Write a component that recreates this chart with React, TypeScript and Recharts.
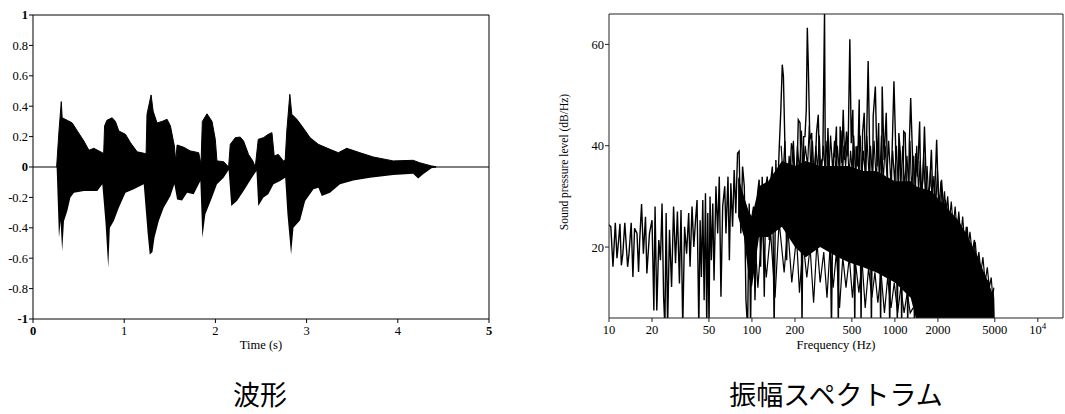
import React from 'react';
import { ComposedChart, Area, Line, XAxis, YAxis, ReferenceLine } from 'recharts';

const SERIF = '"Liberation Serif", "DejaVu Serif", serif';
const CJK = '"Noto Sans CJK JP", "Noto Sans CJK SC", sans-serif';

// waveform envelope, upper edge (time s / amplitude)
const waveUpT = [
  0.259, 0.285, 0.31, 0.32, 0.376, 0.43, 0.486, 0.558, 0.613, 0.667,
  0.76, 0.775, 0.785, 0.81, 0.868, 0.904, 0.941, 1.014, 1.069, 1.142,
  1.233, 1.24, 1.25, 1.295, 1.317, 1.36, 1.416, 1.47, 1.507, 1.55,
  1.565, 1.58, 1.652, 1.725, 1.817, 1.842, 1.857, 1.908, 1.963, 1.999,
  2.017, 2.09, 2.145, 2.163, 2.218, 2.272, 2.309, 2.363, 2.41, 2.437,
  2.47, 2.527, 2.58, 2.62, 2.645, 2.69, 2.745, 2.765, 2.783, 2.816,
  2.838, 2.893, 2.948, 3.038, 3.129, 3.257, 3.348, 3.44, 3.585, 3.73,
  3.95, 4.168, 4.24, 4.37, 4.42,
];
const waveUpV = [
  0, 0.237, 0.43, 0.324, 0.307, 0.29, 0.237, 0.171, 0.11, 0.123,
  0.094, 0.09, 0.27, 0.307, 0.324, 0.3, 0.237, 0.215, 0.16, 0.1,
  0.088, 0.085, 0.347, 0.474, 0.368, 0.29, 0.3, 0.314, 0.27, 0.138,
  0.04, 0.145, 0.13, 0.106, 0.094, 0.018, 0.3, 0.35, 0.3, 0.182,
  0.04, 0.035, 0, 0.149, 0.193, 0.197, 0.171, 0.083, 0.04, 0,
  0.182, 0.193, 0.215, 0.226, 0.072, 0.083, 0.04, 0.045, 0.237, 0.478,
  0.347, 0.314, 0.27, 0.193, 0.149, 0.116, 0.094, 0.123, 0.094, 0.066,
  0.04, 0.044, 0.028, 0.007, 0.002,
];

// waveform envelope, lower edge
const waveLoT = [
  0.259, 0.285, 0.302, 0.32, 0.34, 0.376, 0.41, 0.449, 0.558, 0.705,
  0.76, 0.795, 0.825, 0.843, 0.886, 0.941, 1.014, 1.105, 1.214, 1.258,
  1.28, 1.31, 1.332, 1.379, 1.433, 1.507, 1.55, 1.58, 1.634, 1.69,
  1.762, 1.835, 1.857, 1.89, 1.963, 2.017, 2.09, 2.145, 2.174, 2.236,
  2.309, 2.4, 2.45, 2.47, 2.527, 2.58, 2.637, 2.71, 2.765, 2.79,
  2.83, 2.856, 2.929, 2.984, 3.075, 3.13, 3.166, 3.257, 3.366, 3.512,
  3.695, 3.95, 4.168, 4.223, 4.278, 4.37, 4.42,
];
const waveLoV = [
  0, -0.465, -0.355, -0.553, -0.355, -0.29, -0.2, -0.169, -0.158, -0.158,
  -0.114, -0.366, -0.662, -0.4, -0.355, -0.268, -0.169, -0.147, -0.114, -0.443,
  -0.575, -0.56, -0.465, -0.355, -0.268, -0.191, -0.114, -0.213, -0.22, -0.169,
  -0.18, -0.092, -0.465, -0.311, -0.2, -0.114, -0.07, -0.02, -0.257, -0.224,
  -0.158, -0.07, -0.026, -0.257, -0.2, -0.18, -0.114, -0.092, -0.07, -0.311,
  -0.575, -0.4, -0.35, -0.224, -0.147, -0.136, -0.191, -0.169, -0.114, -0.088,
  -0.07, -0.053, -0.044, -0.075, -0.048, -0.009, -0.002,
];

// spectrum trace (Hz / dB per Hz)
const specFreq = [
  10, 10.3, 10.66, 11.07, 11.37, 11.68, 11.93, 12.2, 12.5, 12.9,
  13.5, 13.8, 14.3, 14.7, 15.1, 15.7, 16.1, 16.4, 16.9, 17.4,
  18, 18.4, 19.2, 20, 20.6, 21, 21.6, 22.3, 22.9, 23.5,
  24.1, 24.6, 25.1, 25.7, 26.5, 27.4, 28.3, 29.2, 30.1, 31.1,
  31.9, 32.8, 33.8, 34.9, 36.1, 36.9, 38.1, 39.2, 40.3, 41.3,
  42.5, 43.4, 44.3, 45.3, 46.3, 47.3, 48.3, 49.1, 50.1, 50.9,
  52, 53.2, 54.3, 56, 57.6, 59.1, 60.7, 62.4, 64.5, 65.8,
  68, 69.5, 71.2, 73.2, 75.1, 77.1, 79.3, 81.3, 83.6, 86,
  88.4, 90.8, 93.2, 95.7, 97.8, 100, 102.6, 105, 109.5, 112.3,
  115, 118, 122, 125, 128, 132, 135, 139, 143, 147,
  150, 155, 159, 163, 166, 170, 175, 180, 184, 189,
  194, 200, 206, 211, 217, 220, 224, 230, 235, 240,
  244, 248, 254, 262, 268, 276, 283, 291, 300, 308,
  313, 322, 328, 340, 348, 360, 372, 380, 390, 402,
  414, 425, 435, 445, 459, 470, 484, 495, 508, 524,
  535, 549, 563, 580, 594, 610, 625, 650, 668, 685,
  705, 730, 750, 770, 795, 815, 840, 870, 895, 920,
  950, 985, 1010, 1040, 1066, 1092, 1115, 1152, 1180, 1200,
  1230, 1260, 1290, 1340, 1370, 1400, 1440, 1490, 1520, 1570,
  1610, 1660, 1700, 1750, 1800, 1850, 1900, 1960, 2010, 2070,
  2120, 2200, 2250, 2300, 2370, 2440, 2520, 2600, 2680, 2760,
  2840, 2930, 3020, 3110, 3200, 3300, 3400, 3600, 3700, 3800,
  3950, 4060, 4200, 4360, 4500, 4650, 4800, 4880, 4960, 15000,
];
const specDb = [
  24.4, 24, 16.1, 24.8, 17.8, 21.4, 24.6, 16.4, 18.7, 24.8,
  16.1, 18.7, 24.8, 14.1, 23.7, 22.7, 15.1, 21.4, 28.5, 18.7,
  26, 14.8, 22.7, 25.3, 7.5, 28, 7.5, 21.4, 17.4, 28.6,
  10.2, 4, 26.7, 4, 23.4, 12.1, 28, 16.8, 27, 12.8,
  27.3, 4, 24, 18.7, 26.7, 16.1, 28, 20, 25.3, 29.3,
  4, 25.3, 14.1, 29.3, 9.5, 30.6, 4, 26.7, 4, 30,
  17.4, 28.6, 13.4, 32, 22.7, 33.9, 10.2, 28, 32, 22.7,
  33.9, 17.4, 32.6, 24, 35.2, 26.7, 38.5, 38.9, 22.7, 35.9,
  32, 9.5, 4, 28.6, 4, 26, 28, 9.5, 30.6, 33.3,
  16.1, 33.9, 10.2, 32, 33.9, 21.4, 32.9, 35.9, 4, 37.2,
  28, 39.2, 46.5, 56, 53.7, 40.5, 17.4, 35.9, 33.3, 40.5,
  39.2, 31.3, 33.3, 45.1, 44.5, 35.9, 4, 41.8, 41.8, 47.1,
  63.3, 55.7, 41.2, 42.5, 22.7, 34.6, 42.5, 46.1, 30.6, 37.2,
  37.2, 66.5, 21.4, 43.5, 34.6, 4, 38.2, 37.9, 43.8, 4,
  43.8, 36.6, 47.1, 37.2, 42.8, 37.9, 61, 40.5, 47.1, 4,
  39.9, 35.9, 49.1, 4, 42.5, 46.5, 32.6, 56.7, 37.2, 4,
  45.8, 51.7, 35.9, 44.5, 4, 51.7, 37.2, 46.5, 29.3, 4,
  35.9, 52.7, 41.2, 4, 42.5, 38.5, 4, 42.8, 42.5, 34.6,
  4, 39.9, 49.4, 34.6, 4, 38.5, 33.9, 44.8, 29.3, 33.3,
  43.8, 32, 29.3, 32, 39.2, 28, 30.6, 41.2, 30.6, 22.7,
  33.3, 26.7, 29.3, 28, 26, 26.7, 24, 25.3, 22.7, 24,
  22.7, 23.4, 21.4, 18.7, 24, 18.7, 17.4, 21.4, 16.1, 18.1,
  16.1, 14.1, 14.8, 13.4, 13.4, 10.8, 10.2, 10.8, 4, 4,
];

// finer harmonic comb along the top of the dense band
const fineFreq = [
  160, 165, 170, 176, 182, 188, 195, 202, 208, 215,
  222, 228, 236, 245, 252, 258, 265, 272, 280, 288,
  296, 304, 316, 325, 335, 345, 355, 367, 378, 386,
  396, 408, 420, 430, 440, 452, 465, 478, 490, 502,
  515, 530, 545, 558, 572, 588, 602, 618, 636, 660,
  675, 695, 715, 740, 760, 785, 805, 828, 855, 880,
  905, 935, 965, 995, 1025, 1055, 1080, 1105, 1135, 1165,
  1215, 1245, 1275, 1310, 1355, 1385, 1420, 1465, 1505, 1545,
  1590, 1635, 1680, 1725, 1775, 1825, 1875, 1930, 1985, 2040,
  2100, 2160, 2225, 2280, 2340, 2410, 2480, 2560, 2640, 2720,
  2800, 2890, 2980, 3070, 3160, 3250, 3350, 3500, 3650, 3750,
  3870, 4000, 4130, 4280, 4430, 4580, 4720, 4840, 4920,
];
const fineDb = [
  40, 34, 41, 30, 38, 33, 41, 32, 40, 35,
  43, 34, 40, 36, 44, 35, 41, 34, 40, 35,
  42, 34, 40, 35, 41, 34, 42, 35, 41, 34,
  40, 35, 43, 34, 40, 36, 41, 34, 39, 35,
  42, 34, 40, 35, 42, 34, 39, 35, 42, 34,
  40, 34, 41, 33, 40, 34, 42, 33, 40, 34,
  41, 33, 39, 33, 40, 32, 39, 33, 40, 32,
  38, 32, 41, 31, 38, 31, 40, 31, 37, 30,
  38, 30, 36, 29, 35, 29, 34, 28, 35, 28,
  33, 27, 31, 26, 30, 25, 29, 24, 28, 23,
  27, 22, 26, 21, 24, 20, 23, 18, 21, 17,
  19, 15, 18, 13, 16, 12, 14, 10, 12,
];

// dips hanging below the dense band
const dipFreq = [
  105, 110, 118, 126, 135, 145, 155, 168, 178, 190,
  205, 215, 228, 242, 255, 270, 285, 300, 318, 335,
  352, 370, 390, 410, 432, 455, 480, 505, 530, 560,
  590, 620, 655, 690, 725, 760, 800, 845, 890, 940,
  990, 1045, 1100, 1160, 1220, 1280, 1340,
];
const dipDb = [
  22, 12, 24, 14, 23, 10, 25, 15, 24, 13,
  22, 11, 21, 14, 20, 9, 21, 13, 19, 10,
  20, 12, 19, 8, 18, 12, 18, 10, 17, 11,
  17, 8, 16, 10, 15, 9, 15, 7, 14, 8,
  13, 7, 12, 7, 11, 7, 8,
];

// solid black core of the spectrum
const coreFreq = [80, 88, 95, 100, 112, 130, 162, 200, 238, 300, 400, 475, 600, 745, 1000, 1290, 1400, 1800, 2380, 2780, 3250, 3800, 4440, 4950];
const coreLow = [26, 22, 14, 12, 22, 22, 24, 20, 18, 20, 18, 17, 16, 15, 13, 10, 6, 6, 6, 6, 6, 6, 6, 6];
const coreHigh = [34, 30, 27, 26, 32, 33, 37, 36, 37, 36, 36, 36, 35, 35, 33, 33, 32, 31, 27.3, 25.3, 22, 18, 13.4, 10];

const timeTicks = [0, 1, 2, 3, 4, 5];
const ampTicks = [-1, -0.8, -0.6, -0.4, -0.2, 0, 0.2, 0.4, 0.6, 0.8, 1];
const freqTicks = [10, 20, 50, 100, 200, 500, 1000, 2000, 5000, 10000];
const dbTicks = [20, 40, 60];

const upperData = waveUpT.map((t, i) => ({ t, band: [0, waveUpV[i]] }));
const lowerData = waveLoT.map((t, i) => ({ t, band: [waveLoV[i], 0] }));
const specData = specFreq.map((f, i) => ({ f, db: specDb[i] }));
const fineData = fineFreq.map((f, i) => ({ f, db: fineDb[i] }));
const dipData = dipFreq.map((f, i) => ({ f, db: dipDb[i] }));
const coreData = coreFreq.map((f, i) => ({ f, band: [coreLow[i], coreHigh[i]] }));

const tickFont: React.CSSProperties = { fontFamily: SERIF, fontSize: 12.5 };

const WaveXTick = ({ x, y, payload }: any) => {
  const bold = payload.value === 0 || payload.value === 5;
  return (
    <text x={x} y={y} dy="0.71em" textAnchor="middle" style={{ ...tickFont, fontWeight: bold ? 700 : 400 }} fill="#000">
      {payload.value}
    </text>
  );
};

const WaveYTick = ({ x, y, payload }: any) => {
  const bold = Number.isInteger(payload.value);
  return (
    <text x={x} y={y} dy="0.355em" textAnchor="end" style={{ ...tickFont, fontWeight: bold ? 700 : 400 }} fill="#000">
      {payload.value}
    </text>
  );
};

const FreqTick = ({ x, y, payload }: any) => (
  <text x={x} y={y} dy="0.71em" textAnchor="middle" style={tickFont} fill="#000">
    {payload.value === 10000 ? (
      <>
        10<tspan dy={-5} style={{ fontSize: 9 }}>4</tspan>
      </>
    ) : (
      payload.value
    )}
  </text>
);

const DbTick = ({ x, y, payload }: any) => (
  <text x={x} y={y} dy="0.355em" textAnchor="end" style={tickFont} fill="#000">
    {payload.value}
  </text>
);

const textBase: React.CSSProperties = {
  position: 'absolute',
  transform: 'translateX(-50%)',
  whiteSpace: 'nowrap',
  lineHeight: 1.15,
  color: '#000',
};

export default function App() {
  return (
    <div style={{ position: 'absolute', left: 0, top: 0, width: 1065, height: 414, background: '#fff' }}>
      <div style={{ position: 'absolute', left: 0, top: 0 }}>
        <ComposedChart width={500} height={360} margin={{ top: 15, right: 11, bottom: 11, left: 0 }}>
          <XAxis dataKey="t" type="number" domain={[0, 5]} ticks={timeTicks} tick={<WaveXTick />} tickSize={4} tickMargin={3} stroke="#000" allowDataOverflow />
          <YAxis type="number" domain={[-1, 1]} ticks={ampTicks} tick={<WaveYTick />} width={33} tickSize={4} tickMargin={1} stroke="#000" allowDataOverflow />
          <ReferenceLine y={1} stroke="#000" />
          <ReferenceLine x={5} stroke="#000" />
          <ReferenceLine y={0} stroke="#000" strokeWidth={1.2} />
          <Area data={upperData} dataKey="band" type="linear" fill="#000" fillOpacity={1} stroke="#000" strokeWidth={1} isAnimationActive={false} />
          <Area data={lowerData} dataKey="band" type="linear" fill="#000" fillOpacity={1} stroke="none" isAnimationActive={false} />
        </ComposedChart>
      </div>

      <div style={{ position: 'absolute', left: 540, top: 0 }}>
        <ComposedChart width={525} height={360} margin={{ top: 14, right: 2, bottom: 12, left: 0 }}>
          <XAxis dataKey="f" type="number" scale="log" domain={[10, 15000]} ticks={freqTicks} tick={<FreqTick />} tickSize={4} tickMargin={3} stroke="#222" allowDataOverflow />
          <YAxis type="number" domain={[6, 66]} ticks={dbTicks} tick={<DbTick />} width={69} tickSize={4} tickMargin={1} stroke="#222" allowDataOverflow />
          <ReferenceLine y={66} stroke="#222" />
          <ReferenceLine x={15000} stroke="#222" />
          <Area data={coreData} dataKey="band" type="linear" fill="#000" fillOpacity={1} stroke="none" isAnimationActive={false} />
          <Line data={dipData} dataKey="db" type="linear" stroke="#000" strokeWidth={1.2} dot={false} isAnimationActive={false} />
          <Line data={fineData} dataKey="db" type="linear" stroke="#000" strokeWidth={1.2} dot={false} isAnimationActive={false} />
          <Line data={specData} dataKey="db" type="linear" stroke="#000" strokeWidth={1.4} dot={false} isAnimationActive={false} />
        </ComposedChart>
      </div>

      <div style={{ ...textBase, left: 261, top: 338, fontFamily: SERIF, fontSize: 12.5 }}>Time (s)</div>
      <div style={{ ...textBase, left: 836, top: 338, fontFamily: SERIF, fontSize: 12.5 }}>Frequency (Hz)</div>
      <div
        style={{
          position: 'absolute',
          left: 565,
          top: 162,
          transform: 'translate(-50%, -50%) rotate(-90deg)',
          whiteSpace: 'nowrap',
          lineHeight: 1.15,
          fontFamily: SERIF,
          fontSize: 11.5,
          color: '#000',
        }}
      >
        Sound pressure level (dB/Hz)
      </div>
      <div style={{ ...textBase, left: 260, top: 378, fontFamily: CJK, fontSize: 27, lineHeight: 1.2 }}>波形</div>
      <div style={{ ...textBase, left: 836, top: 378, fontFamily: CJK, fontSize: 27, lineHeight: 1.2 }}>振幅スペクトラム</div>
    </div>
  );
}
